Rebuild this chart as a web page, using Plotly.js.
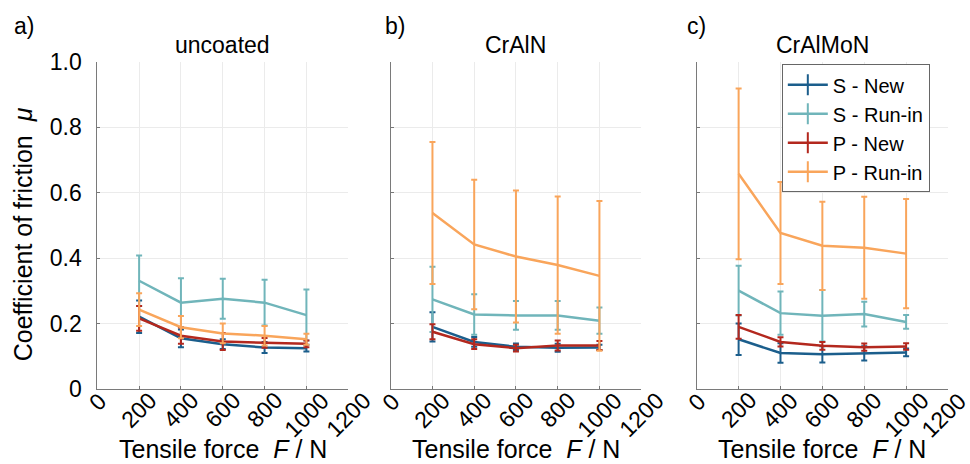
<!DOCTYPE html>
<html>
<head>
<meta charset="utf-8">
<script src="https://cdn.plot.ly/plotly-3.0.1.min.js"></script>
<style>
  html, body { margin: 0; padding: 0; background: #fff; }
  #chart { width: 970px; height: 464px; }
</style>
</head>
<body>
<div id="chart"></div>
<script>
// Tensile forces (N) at which friction was measured
const forces = [200, 400, 600, 800, 1000];
const seriesNames = ['S - New', 'S - Run-in', 'P - New', 'P - Run-in'];
const panelTitles = ['uncoated', 'CrAlN', 'CrAlMoN'];
const panelLetters = ['a)', 'b)', 'c)'];
const xTickVals = [0, 200, 400, 600, 800, 1000, 1200];
const xTickText = ['0', '200', '400', '600', '800', '1000', '1200'];
const yTickVals = [0, 0.2, 0.4, 0.6, 0.8, 1.0];
const yTickText = ['0', '0.2', '0.4', '0.6', '0.8', '1.0'];

// uncoated: mean coefficient of friction and its scatter
const uncoatedSNew = [0.221, 0.155, 0.137, 0.127, 0.125];
const uncoatedSNewErr = [0.050, 0.027, 0.015, 0.017, 0.010];
const uncoatedSRun = [0.331, 0.264, 0.276, 0.264, 0.226];
const uncoatedSRunErr = [0.077, 0.075, 0.061, 0.070, 0.078];
const uncoatedPNew = [0.216, 0.163, 0.145, 0.141, 0.138];
const uncoatedPNewErr = [0.038, 0.025, 0.026, 0.015, 0.010];
const uncoatedPRun = [0.243, 0.189, 0.170, 0.163, 0.152];
const uncoatedPRunErr = [0.050, 0.034, 0.030, 0.030, 0.017];

// CrAlN
const cralnSNew = [0.190, 0.144, 0.129, 0.126, 0.127];
const cralnSNewErr = [0.045, 0.015, 0.010, 0.012, 0.008];
const cralnSRun = [0.274, 0.228, 0.225, 0.225, 0.209];
const cralnSRunErr = [0.100, 0.062, 0.044, 0.044, 0.040];
const cralnPNew = [0.175, 0.137, 0.125, 0.133, 0.133];
const cralnPNewErr = [0.023, 0.015, 0.010, 0.015, 0.014];
const cralnPRun = [0.538, 0.442, 0.405, 0.379, 0.346];
const cralnPRunErr = [0.217, 0.198, 0.202, 0.210, 0.229];

// CrAlMoN
const cralmonSNew = [0.152, 0.110, 0.106, 0.109, 0.112];
const cralmonSNewErr = [0.048, 0.030, 0.025, 0.022, 0.012];
const cralmonSRun = [0.301, 0.232, 0.224, 0.229, 0.205];
const cralmonSRunErr = [0.076, 0.066, 0.079, 0.038, 0.021];
const cralmonPNew = [0.190, 0.144, 0.132, 0.128, 0.130];
const cralmonPNewErr = [0.036, 0.014, 0.012, 0.011, 0.010];
const cralmonPRun = [0.658, 0.477, 0.438, 0.432, 0.414];
const cralmonPRunErr = [0.261, 0.156, 0.135, 0.156, 0.167];

const colors = ['#1b5e8c', '#70b5ba', '#b3281e', '#f9a55b'];

const panels = [
  { means: [uncoatedSNew, uncoatedSRun, uncoatedPNew, uncoatedPRun],
    errs: [uncoatedSNewErr, uncoatedSRunErr, uncoatedPNewErr, uncoatedPRunErr] },
  { means: [cralnSNew, cralnSRun, cralnPNew, cralnPRun],
    errs: [cralnSNewErr, cralnSRunErr, cralnPNewErr, cralnPRunErr] },
  { means: [cralmonSNew, cralmonSRun, cralmonPNew, cralmonPRun],
    errs: [cralmonSNewErr, cralmonSRunErr, cralmonPNewErr, cralmonPRunErr] }
];

const domains = [[0.1003, 0.3590], [0.4028, 0.6610], [0.7183, 0.9773]];
const FONT = 'Liberation Sans, Arial, sans-serif';

const traces = [];
panels.forEach((p, pi) => {
  const ax = pi === 0 ? '' : String(pi + 1);
  p.means.forEach((m, si) => {
    traces.push({
      type: 'scatter', mode: 'lines',
      x: forces, y: m,
      xaxis: 'x' + ax, yaxis: 'y' + ax,
      name: seriesNames[si], showlegend: false,
      line: { color: colors[si], width: 2.5 },
      error_y: { type: 'data', array: p.errs[si], visible: true,
                 color: colors[si], thickness: 2, width: 3 },
      hoverinfo: 'x+y'
    });
  });
});

// legend entries carry an error-bar style glyph
seriesNames.forEach((n, si) => {
  traces.push({
    type: 'scatter', mode: 'lines+markers',
    x: [null], y: [null], xaxis: 'x3', yaxis: 'y3',
    name: n, showlegend: true,
    line: { color: colors[si], width: 2.5 },
    marker: { symbol: 'line-ns-open', size: 15, color: colors[si],
              line: { color: colors[si], width: 2 } }
  });
});

const layout = {
  width: 970, height: 464,
  margin: { l: 0, r: 0, t: 62, b: 75 },
  paper_bgcolor: '#fff', plot_bgcolor: '#fff',
  font: { family: FONT, size: 21, color: '#000' },
  showlegend: true,
  legend: {
    x: 0.806, y: 0.993, xanchor: 'left', yanchor: 'top',
    bgcolor: '#fff', bordercolor: '#666', borderwidth: 1,
    font: { family: FONT, size: 20, color: '#000' },
    tracegroupgap: 0, itemwidth: 40
  },
  annotations: []
};

panels.forEach((p, pi) => {
  const ax = pi === 0 ? '' : String(pi + 1);
  layout['xaxis' + ax] = {
    domain: domains[pi], range: [0, 1200], anchor: 'y' + ax,
    tickvals: xTickVals, showticklabels: false,
    ticks: 'inside', ticklen: 3, tickcolor: '#777',
    showline: true, linecolor: '#7a7a7a', linewidth: 1,
    showgrid: true, gridcolor: '#ebebeb', gridwidth: 1,
    zeroline: false, fixedrange: true
  };
  layout['yaxis' + ax] = {
    domain: [0, 1], range: [0, 1], anchor: 'x' + ax,
    tickvals: yTickVals, ticktext: yTickText,
    showticklabels: pi === 0, ticklabelstandoff: 10,
    ticks: 'inside', ticklen: 3, tickcolor: '#777',
    showline: true, linecolor: '#7a7a7a', linewidth: 1,
    showgrid: true, gridcolor: '#ebebeb', gridwidth: 1,
    zeroline: false, fixedrange: true,
    tickfont: { family: FONT, size: 23, color: '#000' }
  };
  // slanted force labels, each centred under its tick
  xTickVals.forEach((v, ti) => {
    const lastOnPage = pi === 2 && ti === xTickVals.length - 1;
    layout.annotations.push({
      text: xTickText[ti], xref: 'x' + ax, yref: 'paper',
      x: v, y: 0.008, xanchor: 'center', yanchor: 'top', textangle: -45,
      xshift: lastOnPage ? -4 : 0,
      showarrow: false, borderpad: 0,
      font: { family: FONT, size: 23, color: '#000' }
    });
  });
  const cx = (domains[pi][0] + domains[pi][1]) / 2;
  layout.annotations.push({
    text: panelTitles[pi], xref: 'paper', yref: 'paper',
    x: cx, y: 1.052, xanchor: 'center', yanchor: 'middle',
    showarrow: false, font: { family: FONT, size: 23, color: '#000' }
  });
  layout.annotations.push({
    text: 'Tensile force\u00a0\u00a0<i>F</i>\u00a0/\u00a0N', xref: 'paper', yref: 'paper',
    x: cx, y: -0.228, xanchor: 'center', yanchor: 'bottom',
    showarrow: false, borderpad: 0, font: { family: FONT, size: 25, color: '#000' }
  });
});

[0.012, 0.395, 0.706].forEach((x, i) => {
  layout.annotations.push({
    text: panelLetters[i], xref: 'paper', yref: 'paper',
    x: x, y: 1.11, xanchor: 'left', yanchor: 'middle',
    showarrow: false, font: { family: FONT, size: 23, color: '#000' }
  });
});

layout.annotations.push({
  text: 'Coefficient of friction\u00a0\u00a0<i>μ</i>', xref: 'paper', yref: 'paper',
  x: 0.024, y: 0.474, xanchor: 'center', yanchor: 'middle', textangle: -90,
  showarrow: false, font: { family: FONT, size: 25, color: '#000' }
});

Plotly.newPlot('chart', traces, layout, { displayModeBar: false, staticPlot: true });
</script>
</body>
</html>
